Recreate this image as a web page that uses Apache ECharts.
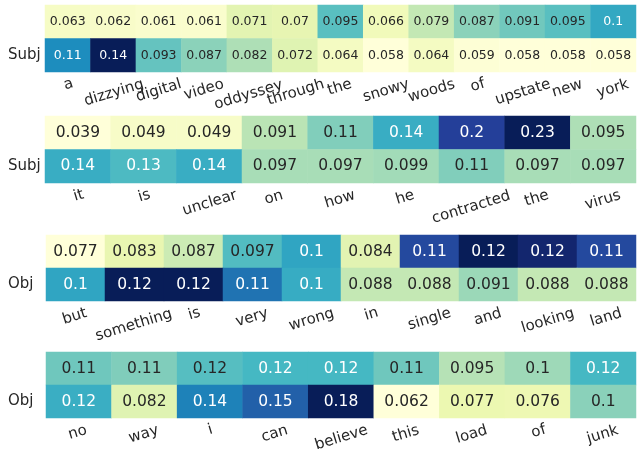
<!DOCTYPE html>
<html><head><meta charset="utf-8">
<script src="https://cdn.jsdelivr.net/npm/echarts/dist/echarts.min.js"></script>
<style>html,body{margin:0;padding:0;background:#fff}#c{width:637px;height:452px}</style>
</head><body><div id="c"></div>
<script>
// ---- data ----
const words1 = ['a','dizzying','digital','video','oddyssey','through','the','snowy','woods','of','upstate','new','york'];
const top1 = [0.063,0.062,0.061,0.061,0.071,0.070,0.095,0.066,0.079,0.087,0.091,0.095,0.103];
const bot1 = [0.110,0.140,0.093,0.087,0.082,0.072,0.064,0.058,0.064,0.059,0.058,0.058,0.058];
const rows1 = ['', 'Subj'];

const words2 = ['it','is','unclear','on','how','he','contracted','the','virus'];
const top2 = [0.039,0.049,0.049,0.091,0.110,0.140,0.200,0.230,0.095];
const bot2 = [0.140,0.130,0.140,0.097,0.097,0.099,0.110,0.097,0.097];
const rows2 = ['', 'Subj'];

const words3 = ['but','something','is','very','wrong','in','single','and','looking','land'];
const top3 = [0.077,0.083,0.087,0.097,0.101,0.084,0.112,0.120,0.118,0.112];
const bot3 = [0.101,0.120,0.120,0.107,0.100,0.088,0.088,0.091,0.088,0.088];
const rows3 = ['', 'Obj'];

const words4 = ['no','way','i','can','believe','this','load','of','junk'];
const top4 = [0.110,0.106,0.116,0.120,0.120,0.110,0.095,0.100,0.120];
const bot4 = [0.124,0.082,0.140,0.150,0.180,0.062,0.077,0.076,0.104];
const rows4 = ['', 'Obj'];

// ---- layout / style ----
const panels = [
  {words: words1, top: top1, bot: bot1, rows: rows1, grid: {left: 45, top: 5, height: 67}, annot: 12.5},
  {words: words2, top: top2, bot: bot2, rows: rows2, grid: {left: 45, top: 116, height: 67}, annot: 15.5},
  {words: words3, top: top3, bot: bot3, rows: rows3, grid: {left: 46, top: 235, height: 66}, annot: 15.5},
  {words: words4, top: top4, bot: bot4, rows: rows4, grid: {left: 46, top: 352, height: 66}, annot: 15.5}
];
const YLGNBU = ['#ffffd9','#edf8b1','#c7e9b4','#7fcdbb','#41b6c4','#1d91c0','#225ea8','#253494','#081d58'];
const FONT = '"DejaVu Sans", Verdana, sans-serif';
const XFS = 15, ROT = 17, XMARGIN = 2, C1 = 8.5;
const th = ROT * Math.PI / 180;

function hex2rgb(h){ return [1,3,5].map(i => parseInt(h.substr(i,2),16)); }
function cmap(t){
  t = Math.max(0, Math.min(1, t));
  const p = t * (YLGNBU.length - 1);
  const i = Math.min(Math.floor(p), YLGNBU.length - 2);
  const f = p - i;
  const a = hex2rgb(YLGNBU[i]), b = hex2rgb(YLGNBU[i+1]);
  return a.map((v,k) => v + (b[k]-v)*f);
}
function lum(rgb){
  const c = rgb.map(v => { v /= 255; return v <= 0.03928 ? v/12.92 : Math.pow((v+0.055)/1.055, 2.4); });
  return 0.2126*c[0] + 0.7152*c[1] + 0.0722*c[2];
}
function fmt(v){ return String(Number(v.toPrecision(2))); }

const ctx = document.createElement('canvas').getContext('2d');
ctx.font = XFS + 'px DejaVu Sans';
function textWidth(s){
  const w = ctx.measureText(s).width;
  return w > 0 ? w : s.length * XFS * 0.6;
}
const SPACE = textWidth('a a') - textWidth('aa') || XFS * 0.318;

const grids = [], xAxes = [], yAxes = [], series = [], visualMaps = [];
panels.forEach((pn, gi) => {
  grids.push({left: pn.grid.left, right: 1, top: pn.grid.top, height: pn.grid.height,
              containLabel: false, outerBoundsMode: 'none'});
  // emulate matplotlib's rotated-label placement (top of rotated bbox under the cell)
  const pads = [];
  const xData = pn.words.map((w, i) => {
    const tw = textWidth(w);
    const D = (C1 + tw * Math.sin(th) / 2) / Math.cos(th);
    const hx = D * Math.sin(th);
    pads[i] = ' '.repeat(Math.max(0, Math.round(hx / (SPACE / 2 * Math.cos(th)))));
    return {value: w, textStyle: {align: 'center', verticalAlign: 'top', lineHeight: 2 * D}};
  });
  xAxes.push({
    type: 'category', gridIndex: gi, data: xData,
    axisLine: {show: false}, axisTick: {show: false}, splitLine: {show: false},
    axisLabel: {
      interval: 0, rotate: ROT, align: 'center', verticalAlign: 'top', margin: XMARGIN,
      fontSize: XFS, fontFamily: FONT, color: '#262626',
      formatter: (v, i) => v + pads[i]
    }
  });
  yAxes.push({
    type: 'category', gridIndex: gi, data: pn.rows, inverse: true,
    axisLine: {show: false}, axisTick: {show: false}, splitLine: {show: false},
    axisLabel: {fontSize: 15, fontFamily: FONT, color: '#262626', align: 'left', margin: pn.grid.left - 8}
  });
  const all = pn.top.concat(pn.bot);
  const mn = Math.min.apply(null, all), mx = Math.max.apply(null, all);
  const data = [];
  [pn.top, pn.bot].forEach((row, ri) => {
    row.forEach((v, ci) => {
      const col = cmap((v - mn) / (mx - mn));
      data.push({value: [ci, ri, v], label: {color: lum(col) > 0.408 ? '#262626' : '#ffffff'}});
    });
  });
  series.push({
    type: 'heatmap', xAxisIndex: gi, yAxisIndex: gi, data: data,
    label: {show: true, fontSize: pn.annot, fontFamily: FONT, formatter: p => fmt(p.value[2])},
    itemStyle: {borderWidth: 0},
    emphasis: {disabled: true}
  });
  visualMaps.push({
    type: 'continuous', show: false, seriesIndex: gi, dimension: 2,
    min: mn, max: mx, inRange: {color: YLGNBU}
  });
});

const chart = echarts.init(document.getElementById('c'), null, {renderer: 'canvas'});
chart.setOption({
  animation: false,
  backgroundColor: '#ffffff',
  grid: grids, xAxis: xAxes, yAxis: yAxes, series: series, visualMap: visualMaps
});
</script>
</body></html>
